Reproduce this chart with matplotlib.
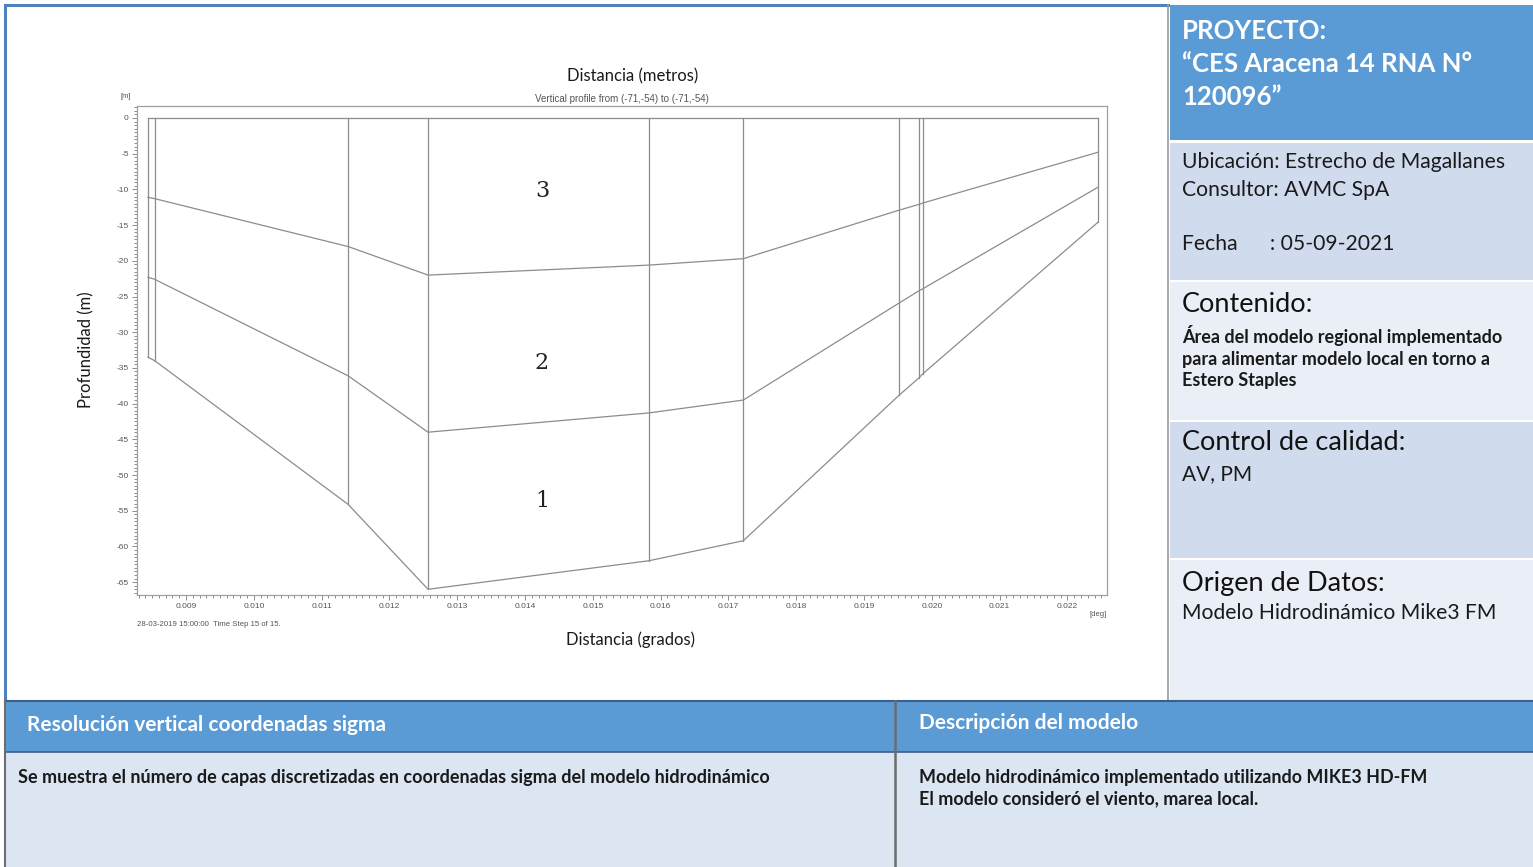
"""
Perfil vertical de la malla sigma (3 capas) - ficha del modelo Mike3 FM.
Layout: chart on the left, info panel on the right, two text boxes at the bottom.
"""

import matplotlib.pyplot as plt
from matplotlib.patches import Rectangle
from matplotlib.ticker import MultipleLocator, FormatStrFormatter

W, H = 1533, 867

# ---------------------------------------------------------------------
# Data
# ---------------------------------------------------------------------
# horizontal position of each mesh column [deg]
node_x = [0.00844, 0.00854, 0.01139, 0.01257, 0.01583, 0.01722,
          0.01952, 0.01981, 0.01987, 0.02245]
# water surface, interface 3/2, interface 2/1, bed [m]
surface = [0, 0, 0, 0, 0, 0, 0, 0, 0, 0]
interface_top = [-11.1, -11.3, -18.0, -22.0, -20.6, -19.7,
                 -12.9, -12.1, -11.9, -4.8]
interface_bot = [-22.3, -22.6, -36.1, -44.0, -41.3, -39.5,
                 -25.9, -24.2, -23.9, -9.7]
bed = [-33.5, -34.0, -54.1, -66.0, -62.0, -59.2,
       -38.8, -36.4, -35.8, -14.6]

layer_names = ["3", "2", "1"]
layer_x = [0.01425, 0.01425, 0.01425]
layer_y = [-10.2, -34.3, -53.7]

x_ticks = [0.009, 0.010, 0.011, 0.012, 0.013, 0.014, 0.015, 0.016,
           0.017, 0.018, 0.019, 0.020, 0.021, 0.022]
y_ticks = [0, -5, -10, -15, -20, -25, -30, -35, -40, -45, -50, -55, -60, -65]

BLUE = "#5b9bd5"
EDGE = "#4f81bd"
LIGHT1 = "#d0dcee"
LIGHT2 = "#e9eef7"
BODY = "#dce6f3"
MESH = "#8c8c8c"
INK = "#1a1a1a"

plt.rcParams["font.family"] = ["Lato", "DejaVu Sans"]


def rect(x0, y0, x1, y1):
    """pixel box (top-left origin) -> figure fraction rect"""
    return [x0 / W, 1 - y1 / H, (x1 - x0) / W, (y1 - y0) / H]


def ftext(x, y, s, **kw):
    fig.text(x / W, 1 - y / H, s, **kw)


fig = plt.figure(figsize=(W / 100, H / 100), dpi=100)

# ---------------------------------------------------------------------
# Background boxes (drawn on a full-figure overlay)
# ---------------------------------------------------------------------
bg = fig.add_axes([0, 0, 1, 1])
bg.set_xlim(0, W)
bg.set_ylim(H, 0)
bg.axis("off")

# left chart panel border
bg.plot([5, 1168], [5, 5], color=EDGE, lw=2.2)
bg.plot([5, 5], [5, 700], color=EDGE, lw=2.2)
bg.plot([1168, 1168], [5, 700], color="#9a9a9a", lw=1.2)

# right info panel
boxes = [(5, 140, BLUE), (143, 280, LIGHT1), (282, 420, LIGHT2),
         (422, 558, LIGHT1), (560, 700, LIGHT2)]
for y0, y1, c in boxes:
    bg.add_patch(Rectangle((1170, y0), W - 1170, y1 - y0, color=c, lw=0))

# bottom boxes
bg.add_patch(Rectangle((5, 702), W - 5, 50, color=BLUE, lw=0))
bg.add_patch(Rectangle((5, 752), W - 5, H - 752, color=BODY, lw=0))
bg.plot([5, W], [701, 701], color="#3d5f8a", lw=1.5)
bg.plot([5, W], [752, 752], color="#3d5f8a", lw=1.2)
bg.plot([5, 5], [701, H], color="#6d6d6d", lw=1.5)
bg.plot([895, 895], [701, H], color="#6d6d6d", lw=1.8)

# ---------------------------------------------------------------------
# Vertical profile chart
# ---------------------------------------------------------------------
ax = fig.add_axes(rect(137, 106, 1107, 595))
ax.set_xlim(0.008277, 0.022584)
ax.set_ylim(-66.8, 1.68)

# mesh columns, then the sigma interfaces
for i, xv in enumerate(node_x):
    ax.plot([xv, xv], [surface[i], bed[i]], color=MESH, lw=0.9)
for series in (surface, interface_top, interface_bot, bed):
    ax.plot(node_x, series, color=MESH, lw=0.9)

for name, lx, ly in zip(layer_names, layer_x, layer_y):
    ax.text(lx, ly, name, ha="center", va="center", fontsize=16,
            family="DejaVu Serif", color="#222222")

ax.set_xticks(x_ticks)
ax.set_yticks(y_ticks)
ax.xaxis.set_major_formatter(FormatStrFormatter("%.3f"))
ax.yaxis.set_major_formatter(FormatStrFormatter("%d"))
ax.xaxis.set_minor_locator(MultipleLocator(0.0001))
ax.yaxis.set_minor_locator(MultipleLocator(0.5))
ax.tick_params(which="both", direction="out", colors="#7a7a7a",
               labelcolor="#555555", labelsize=6, width=0.6,
               labelfontfamily="Liberation Sans")
ax.tick_params(which="major", length=3.5, pad=2.5)
ax.tick_params(which="minor", length=2)
for sp in ax.spines.values():
    sp.set_color("#a0a0a0")
    sp.set_linewidth(0.9)

ftext(126, 97, "[m]", fontsize=5.5, color="#555555",
      family="Liberation Sans", ha="center", va="center")
ftext(1098, 614, "[deg]", fontsize=5.5, color="#555555",
      family="Liberation Sans", ha="center", va="center")
ftext(137, 625, "28-03-2019 15:00:00  Time Step 15 of 15.", fontsize=5.6,
      color="#555555", family="Liberation Sans", ha="left", va="center")
ftext(622, 99, "Vertical profile from (-71,-54) to (-71,-54)", fontsize=7,
      color="#555555", family="Liberation Sans", ha="center", va="center")

ftext(633, 76, "Distancia (metros)", fontsize=12, ha="center", va="center",
      color=INK)
ftext(630, 640, "Distancia (grados)", fontsize=12, ha="center", va="center",
      color=INK)
ftext(86, 350, "Profundidad (m)", fontsize=12, ha="center", va="center",
      rotation=90, color=INK)

# ---------------------------------------------------------------------
# Right info panel text
# ---------------------------------------------------------------------
ftext(1182, 64, "PROYECTO:\n“CES Aracena 14 RNA N°\n120096”", fontsize=18.5,
      fontweight="bold", color="white", ha="left", va="center",
      linespacing=1.45)

ftext(1182, 162, "Ubicación: Estrecho de Magallanes", fontsize=15.2,
      ha="left", va="center", color=INK)
ftext(1182, 190, "Consultor: AVMC SpA", fontsize=15.2,
      ha="left", va="center", color=INK)
ftext(1182, 244, "Fecha      : 05-09-2021", fontsize=15.2,
      ha="left", va="center", color=INK)

ftext(1182, 305, "Contenido:", fontsize=19.5, ha="left", va="center",
      color="#111111")
ftext(1182, 357, "Área del modelo regional implementado\n"
      "para alimentar modelo local en torno a\nEstero Staples",
      fontsize=13, fontweight="bold", ha="left", va="center",
      color=INK, linespacing=1.3)

ftext(1182, 443, "Control de calidad:", fontsize=19.5, ha="left",
      va="center", color="#111111")
ftext(1182, 474, "AV, PM", fontsize=15, ha="left", va="center", color=INK)

ftext(1182, 583, "Origen de Datos:", fontsize=19.5, ha="left", va="center",
      color="#111111")
ftext(1182, 613, "Modelo Hidrodinámico Mike3 FM", fontsize=15.2,
      ha="left", va="center", color=INK)

# ---------------------------------------------------------------------
# Bottom boxes text
# ---------------------------------------------------------------------
ftext(27, 725, "Resolución vertical coordenadas sigma", fontsize=15,
      fontweight="bold", color="white", ha="left", va="center")
ftext(919, 723, "Descripción del modelo", fontsize=15,
      fontweight="bold", color="white", ha="left", va="center")
ftext(18, 777, "Se muestra el número de capas discretizadas en coordenadas "
      "sigma del modelo hidrodinámico", fontsize=13, fontweight="bold",
      color=INK, ha="left", va="center")
ftext(919, 788, "Modelo hidrodinámico implementado utilizando MIKE3 HD-FM\n"
      "El modelo consideró el viento, marea local.", fontsize=12.9,
      fontweight="bold", color=INK, ha="left", va="center",
      linespacing=1.3)

fig.savefig("out.png", dpi=100)
